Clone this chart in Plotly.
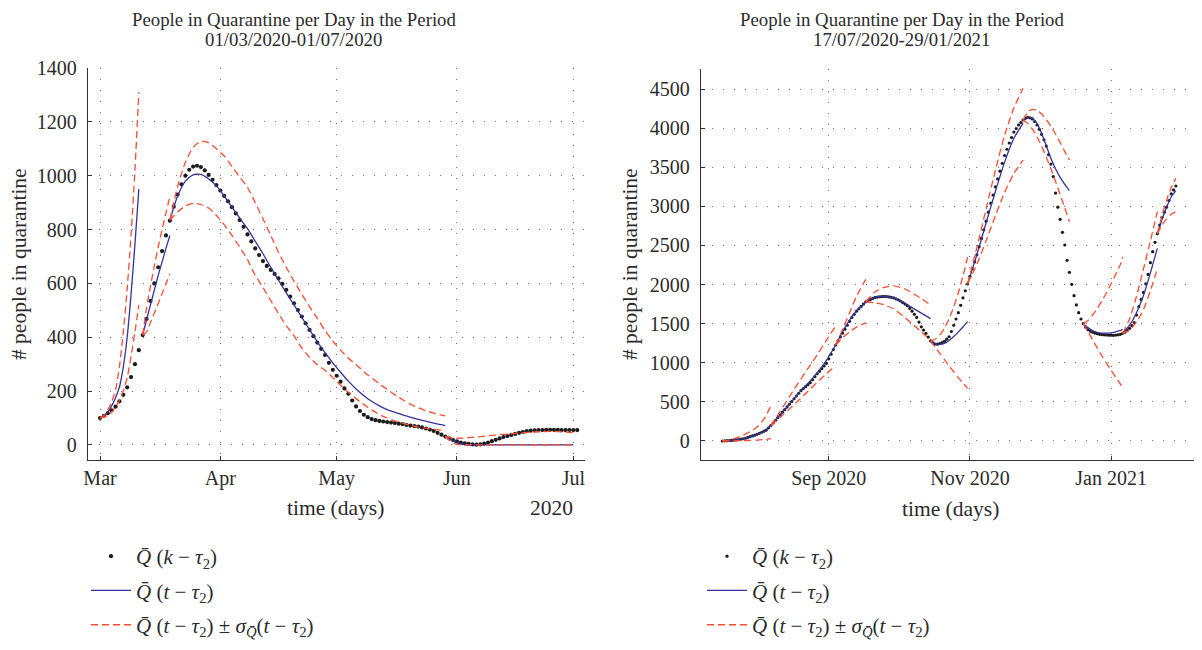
import plotly.graph_objects as go
import pandas as pd

W, H = 1202, 650
OFF = 8  # browser default body margin


def fx(p):
    return (p - OFF) / W


def fy(p):
    return 1 - (p - OFF) / H


FONT = "Liberation Serif"
TXT = "#2b2b2b"
BLUE = "#34349a"
RED = "#ff4b2e"
DOT = "#1b1b1b"

# ---------------- LEFT PANEL DATA (days since 2020-03-01) ----------------
L_START = "2020-03-01"
left_obs = [
    100, 108, 118, 128, 142, 162, 186, 214, 252, 300, 352, 408, 468, 535, 600,
    660, 720, 778, 833, 885, 930, 968, 1000, 1022, 1034, 1037, 1032, 1020,
    1003, 985, 965, 945, 925, 905, 883, 860, 835, 810, 782, 756, 730, 705, 683,
    665, 650, 635, 619, 598, 576, 551, 526, 501, 477, 452, 427, 404, 380, 357,
    334, 305, 279, 257, 235, 210, 190, 165, 143, 126, 112, 103, 96, 92, 89, 87,
    85, 83, 81, 79, 77, 74, 72, 70, 68, 65, 61, 57, 52, 45, 38, 31, 24, 18, 13,
    9, 6, 4, 2, 1, 2, 5, 9, 14, 19, 24, 29, 33, 37, 41, 45, 48, 51, 53, 54, 55,
    55, 56, 56, 56, 56, 55, 55, 55, 55, 55,
]

left_seg_days = [
    [0, 1, 2, 3, 4, 5, 6, 7, 8, 9, 10],
    [11, 12, 13, 14, 15, 16, 17, 18],
    [18, 20, 22, 24, 26, 28, 30, 32, 34, 36, 38, 40, 42, 44, 46, 48, 50, 52,
     54, 56, 58, 60, 62, 64, 66, 68, 70, 72, 74, 76, 78, 80, 82, 84, 86, 88, 89],
    [89, 90, 91, 92, 93, 94, 95, 96, 98, 100, 104, 108, 112, 116, 120, 122],
]
left_seg_mean = [
    [100, 108, 122, 145, 175, 215, 290, 400, 560, 745, 950],
    [408, 465, 520, 575, 630, 680, 730, 778],
    [835, 925, 980, 1003, 1005, 988, 962, 925, 883, 843, 803, 757, 710, 660,
     612, 565, 520, 474, 428, 383, 343, 305, 270, 237, 208, 183, 162, 145, 131,
     121, 112, 103, 95, 88, 81, 75, 72],
    [31, 22, 14, 8, 4, 1, 0, 0, 0, 0, 0, 0, 0, 0, 0, 0],
]
left_seg_upper = [
    [100, 110, 130, 160, 205, 290, 420, 580, 780, 1020, 1310],
    [408, 510, 590, 665, 735, 800, 862, 922],
    [835, 960, 1050, 1105, 1128, 1122, 1100, 1073, 1035, 995, 957, 900, 840,
     778, 715, 660, 608, 560, 514, 470, 425, 386, 352, 323, 298, 272, 249, 227,
     206, 186, 168, 151, 138, 127, 118, 111, 108],
    [31, 28, 26, 25, 25, 26, 27, 28, 31, 34, 39, 44, 48, 50, 48, 46],
]
left_seg_lower = [
    [100, 103, 110, 122, 140, 165, 200, 250, 330, 420, 520],
    [408, 420, 455, 490, 525, 562, 598, 635],
    [835, 865, 888, 897, 893, 880, 852, 818, 778, 735, 688, 630, 585, 536,
     488, 443, 405, 360, 325, 298, 277, 250, 222, 196, 172, 150, 130, 113, 100,
     89, 80, 73, 67, 62, 58, 55, 54],
    [31, 18, 8, 2, 0, 0, 0, 0, 0, 0, 0, 0, 0, 0, 0, 0],
]

# ---------------- RIGHT PANEL DATA (days since 2020-07-17) ----------------
R_START = "2020-07-17"
right_obs = [
    0, 2, 4, 6, 8, 10, 14, 18, 23, 29, 35, 45, 55, 65, 75, 85, 98, 112, 126,
    140, 168, 198, 230, 265, 300, 335, 368, 402, 435, 470, 505, 540, 575, 610,
    645, 670, 695, 720, 745, 783, 822, 860, 893, 926, 960, 993, 1050, 1110,
    1170, 1227, 1280, 1330, 1380, 1430, 1480, 1530, 1580, 1620, 1660, 1690,
    1720, 1750, 1780, 1795, 1810, 1823, 1835, 1840, 1844, 1847, 1848, 1846,
    1842, 1837, 1830, 1818, 1805, 1790, 1770, 1750, 1730, 1695, 1660, 1620,
    1580, 1520, 1460, 1418, 1377, 1328, 1280, 1255, 1240, 1238, 1245, 1258,
    1275, 1302, 1333, 1400, 1480, 1560, 1640, 1735, 1830, 1920, 2010, 2105,
    2200, 2290, 2380, 2485, 2590, 2700, 2810, 2925, 3040, 3145, 3250, 3350,
    3450, 3550, 3650, 3730, 3810, 3880, 3950, 3995, 4040, 4072, 4104, 4125,
    4138, 4132, 4118, 4085, 4040, 3985, 3920, 3850, 3770, 3660, 3540, 3380,
    3170, 2990, 2834, 2668, 2506, 2310, 2157, 2003, 1858, 1740, 1640, 1560,
    1500, 1455, 1425, 1405, 1390, 1380, 1372, 1364, 1360, 1357, 1355, 1353,
    1352, 1351, 1354, 1358, 1364, 1376, 1390, 1413, 1440, 1475, 1515, 1610,
    1717, 1810, 1900, 2010, 2130, 2280, 2420, 2540, 2650, 2760, 2860, 2925,
    2990, 3075, 3160, 3210, 3260,
]

right_seg_days = [
    [0, 3, 6, 9, 12, 15, 18, 21],
    [21, 25, 29, 33, 37, 41, 45, 49],
    [49, 52, 55, 58, 62],
    [62, 66, 70, 74, 78, 82, 86, 90],
    [90, 92, 94, 96, 98, 100, 102, 104, 106],
    [106, 110, 114, 118, 122, 126, 130],
    [130, 132, 134, 136, 138, 140, 142, 144, 146, 148, 150],
    [156, 158, 160, 162, 164, 166, 168, 170, 172, 173],
    [173, 176, 179, 182, 185, 188],
    [188, 190, 192, 194, 196],
]
right_seg_mean = [
    [0, 5, 14, 28, 52, 85, 128, 195],
    [198, 335, 470, 610, 735, 870, 1030, 1227],
    [1227, 1400, 1545, 1665, 1775],
    [1780, 1838, 1850, 1830, 1775, 1705, 1635, 1565],
    [1280, 1245, 1235, 1248, 1285, 1335, 1395, 1458, 1526],
    [2010, 2380, 2790, 3190, 3565, 3870, 4065],
    [4104, 4135, 4125, 4060, 3930, 3775, 3615, 3480, 3370, 3280, 3200],
    [1500, 1450, 1412, 1390, 1380, 1378, 1383, 1395, 1415, 1425],
    [1376, 1480, 1640, 1860, 2150, 2463],
    [2650, 2830, 2990, 3120, 3200],
]
right_seg_upper = [
    [0, 15, 40, 75, 120, 180, 280, 450],
    [198, 380, 566, 750, 925, 1100, 1290, 1470],
    [1227, 1430, 1640, 1850, 2067],
    [1780, 1905, 1965, 1982, 1955, 1895, 1820, 1740],
    [1280, 1300, 1355, 1445, 1565, 1715, 1895, 2110, 2350],
    [2010, 2470, 2970, 3460, 3910, 4260, 4509],
    [4104, 4205, 4240, 4230, 4180, 4110, 4025, 3925, 3815, 3700, 3592],
    [1500, 1540, 1610, 1695, 1790, 1895, 2010, 2130, 2255, 2350],
    [1376, 1560, 1850, 2200, 2560, 2932],
    [2650, 2880, 3080, 3240, 3358],
]
right_seg_lower = [
    [0, 1, 3, 5, 8, 12, 18, 30],
    [198, 300, 410, 520, 635, 750, 860, 960],
    [1227, 1320, 1395, 1455, 1510],
    [1780, 1765, 1740, 1690, 1600, 1500, 1395, 1290],
    [1280, 1200, 1120, 1040, 960, 885, 810, 740, 674],
    [2010, 2260, 2560, 2880, 3180, 3420, 3592],
    [4104, 4060, 3990, 3890, 3770, 3630, 3480, 3320, 3150, 2980, 2804],
    [1500, 1400, 1295, 1190, 1090, 995, 905, 815, 730, 680],
    [1376, 1420, 1520, 1680, 1920, 2200],
    [2650, 2760, 2840, 2900, 2932],
]

NAME_OBS = "<i>Q\u0304</i> (<i>k</i> \u2212 <i>\u03c4</i><sub>2</sub>)"
NAME_FIT = "<i>Q\u0304</i> (<i>t</i> \u2212 <i>\u03c4</i><sub>2</sub>)"
NAME_BAND = ("<i>Q\u0304</i> (<i>t</i> \u2212 <i>\u03c4</i><sub>2</sub>) \u00b1 "
             "<i>\u03c3</i><sub><i>Q\u0304</i></sub>(<i>t</i> \u2212 <i>\u03c4</i><sub>2</sub>)")


def to_dates(start, days):
    s = pd.Timestamp(start)
    return [s + pd.Timedelta(days=d) for d in days]


def joined(start, days_list, vals_lists):
    xs, ys = [], []
    for vals in vals_lists:
        for days, v in zip(days_list, vals):
            xs += to_dates(start, days) + [None]
            ys += list(v) + [None]
    return xs, ys


fig = go.Figure()


def add_panel(start, obs, sdays, smean, sup, slo, xa, ya, legend, dot_size):
    fig.add_trace(go.Scatter(
        x=to_dates(start, range(len(obs))), y=obs, mode="markers",
        marker=dict(size=dot_size, color=DOT), name=NAME_OBS,
        xaxis=xa, yaxis=ya, legend=legend, legendgroup=legend + "a"))
    bx, by = joined(start, sdays, [smean])
    fig.add_trace(go.Scatter(
        x=bx, y=by, mode="lines",
        line=dict(color=BLUE, width=1.3, shape="spline", smoothing=0.6),
        name=NAME_FIT, xaxis=xa, yaxis=ya, legend=legend, legendgroup=legend + "b"))
    rx, ry = joined(start, sdays, [sup, slo])
    fig.add_trace(go.Scatter(
        x=rx, y=ry, mode="lines",
        line=dict(color=RED, width=1.3, dash="7px,4px", shape="spline", smoothing=0.6),
        name=NAME_BAND, xaxis=xa, yaxis=ya, legend=legend, legendgroup=legend + "c"))


add_panel(L_START, left_obs, left_seg_days, left_seg_mean, left_seg_upper,
          left_seg_lower, "x", "y", "legend", 4.2)
add_panel(R_START, right_obs, right_seg_days, right_seg_mean, right_seg_upper,
          right_seg_lower, "x2", "y2", "legend2", 3.2)

axis_common = dict(
    showline=True, linecolor="#333", linewidth=1.4, mirror=False,
    ticks="inside", ticklen=4, tickcolor="#333",
    showgrid=True, gridcolor="#6f6f6f", gridwidth=1.2, griddash="1px,10px",
    zeroline=False, tickfont=dict(family=FONT, size=20, color=TXT),
    automargin=False,
)

LEG_FONT = dict(family=FONT, size=21, color=TXT)

fig.update_layout(
    width=W, height=H,
    margin=dict(l=0, r=0, t=0, b=0),
    paper_bgcolor="white", plot_bgcolor="white",
    font=dict(family=FONT, size=18, color=TXT),
    xaxis=dict(axis_common, domain=[fx(88), fx(585)], anchor="y", type="date",
               range=["2020-02-26 21:40", "2020-07-04 00:00"],
               dtick="M1", tick0="2020-03-01", tickformat="%b"),
    yaxis=dict(axis_common, domain=[fy(460), fy(68)], anchor="x",
               range=[-56, 1400], dtick=200, tick0=0, ticklabelstandoff=6),
    xaxis2=dict(axis_common, domain=[fx(701), fx(1199)], anchor="y2", type="date",
                range=["2020-07-07 19:00", "2021-02-08 00:00"],
                dtick="M2", tick0="2020-09-01", tickformat="%b %Y"),
    yaxis2=dict(axis_common, domain=[fy(460), fy(69)], anchor="x2",
                range=[-243, 4756], dtick=500, tick0=0, ticklabelstandoff=6),
    legend=dict(x=fx(86), y=fy(536), xanchor="left", yanchor="top",
                font=LEG_FONT, tracegroupgap=4, itemwidth=40,
                bgcolor="rgba(0,0,0,0)"),
    legend2=dict(x=fx(702), y=fy(536), xanchor="left", yanchor="top",
                 font=LEG_FONT, tracegroupgap=4, itemwidth=40,
                 bgcolor="rgba(0,0,0,0)"),
    showlegend=True,
)

TITLE_1 = "People in Quarantine per Day in the Period"
ann = [
    dict(text=TITLE_1, x=fx(293.5), y=1.0, yanchor="top", size=18.8),
    dict(text="01/03/2020-01/07/2020", x=fx(293.5), y=fy(40), yanchor="middle", size=18.8),
    dict(text=TITLE_1, x=fx(901.5), y=1.0, yanchor="top", size=18.8),
    dict(text="17/07/2020-29/01/2021", x=fx(901.5), y=fy(40), yanchor="middle", size=18.8),
    dict(text="# people in quarantine", x=fx(19), y=fy(264), yanchor="middle",
         textangle=-90, size=21.5),
    dict(text="# people in quarantine", x=fx(630), y=fy(264), yanchor="middle",
         textangle=-90, size=21.5),
    dict(text="time (days)", x=fx(335), y=fy(508), yanchor="middle", size=21.5),
    dict(text="time (days)", x=fx(950), y=fy(509), yanchor="middle", size=21.5),
    dict(text="2020", x=fx(551), y=fy(508), yanchor="middle", size=21.5),
]
for a in ann:
    size = a.pop("size")
    fig.add_annotation(xref="paper", yref="paper", showarrow=False,
                       xanchor="center", borderpad=0,
                       font=dict(family=FONT, size=size, color=TXT), **a)

fig.write_html("out.html")
